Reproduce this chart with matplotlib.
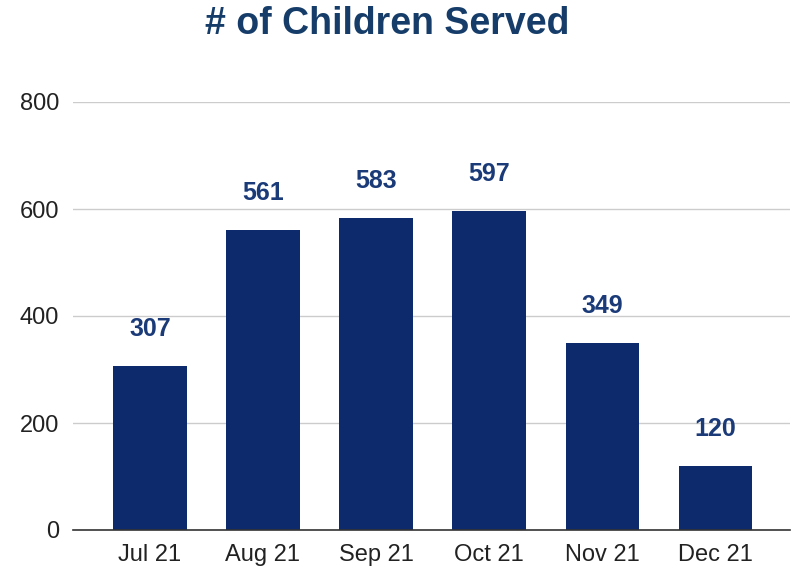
import matplotlib.pyplot as plt

months = ["Jul 21", "Aug 21", "Sep 21", "Oct 21", "Nov 21", "Dec 21"]
children = [307, 561, 583, 597, 349, 120]
y_ticks = [0, 200, 400, 600, 800]

plt.rcParams["font.family"] = ["Liberation Sans", "DejaVu Sans"]

fig = plt.figure(figsize=(7.92, 5.67), dpi=100)
ax = fig.add_axes([73 / 792, 1 - 530 / 567, (790 - 73) / 792, (530 - 102) / 567])

bar_color = "#0c2a6c"
label_color = "#1b3a78"

x = list(range(len(months)))
ax.bar(x, children, width=0.65, color=bar_color, zorder=3)

for xi, v in zip(x, children):
    ax.annotate(str(v), (xi, v), xytext=(0, 18), textcoords="offset points",
                ha="center", va="bottom", fontsize=18, fontweight="bold",
                color=label_color)

ax.set_xlim(-0.68, 5.66)
ax.set_ylim(0, 800)
ax.set_yticks(y_ticks)
ax.set_xticks(x)
ax.set_xticklabels(months)
ax.tick_params(axis="both", length=0, labelsize=17, labelcolor="#222222")
ax.tick_params(axis="y", pad=10)
ax.tick_params(axis="x", pad=10)

ax.grid(axis="y", color="#cccccc", linewidth=1, zorder=0)
for s in ["top", "right", "left"]:
    ax.spines[s].set_visible(False)
ax.spines["bottom"].set_color("#333333")
ax.spines["bottom"].set_linewidth(1.2)
ax.spines["bottom"].set_zorder(4)

fig.text(387 / 792, 1 - 24 / 567, "# of Children Served", ha="center", va="center",
         fontsize=27, fontweight="bold", color="#163d69")

fig.savefig("out.png", dpi=100)
